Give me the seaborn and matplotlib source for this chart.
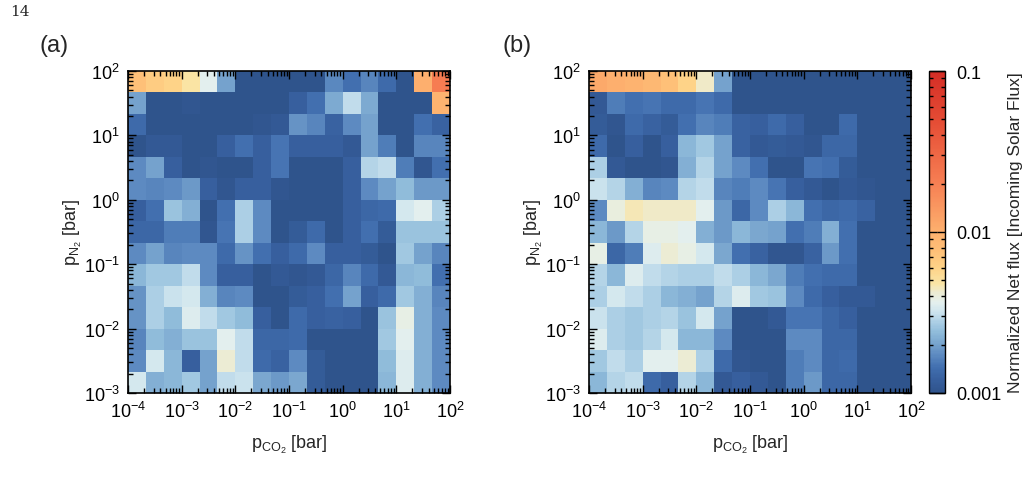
import numpy as np
import matplotlib
matplotlib.use('Agg')
import matplotlib.pyplot as plt
import seaborn as sns
from matplotlib.colors import LogNorm, LinearSegmentedColormap

# Grid: 3 cells per decade
pco2_decades = [-4, -3, -2, -1, 0, 1, 2]   # x axis, log10 bar
pn2_decades = [2, 1, 0, -1, -2, -3]        # y axis (top to bottom), log10 bar
cells_per_decade = 3

# Normalized net flux, in units of 1e-3 incoming solar flux
# rows: pN2 from 1e2 (top) down to 1e-3; columns: pCO2 from 1e-4 to 1e2
flux_a = [
    [7.6, 6.6, 6.0, 4.8, 3.6, 2.0, 1.0, 1.0, 1.0, 1.0, 1.0, 1.7, 1.45, 1.66, 1.38, 1.0, 10.0, 21.0],
    [2.0, 1.0, 1.0, 1.05, 1.0, 1.0, 1.0, 1.0, 1.0, 1.2, 1.45, 2.1, 3.0, 2.1, 1.0, 1.0, 1.0, 9.5],
    [1.38, 1.0, 1.0, 1.0, 1.0, 1.0, 1.0, 1.05, 1.1, 1.82, 1.66, 1.26, 1.74, 2.0, 1.0, 1.0, 1.45, 1.26],
    [1.0, 1.1, 1.1, 1.0, 1.0, 1.2, 1.45, 1.2, 1.51, 1.2, 1.2, 1.2, 1.1, 2.0, 1.58, 1.0, 1.66, 1.66],
    [1.74, 2.0, 1.2, 1.0, 1.05, 1.0, 1.0, 1.2, 1.51, 1.0, 1.0, 1.0, 1.2, 2.88, 3.02, 1.58, 1.05, 1.45],
    [1.74, 1.66, 1.74, 1.91, 1.2, 1.05, 1.2, 1.2, 1.05, 1.0, 1.0, 1.0, 1.2, 1.74, 2.0, 2.4, 1.91, 1.91],
    [1.2, 1.45, 2.51, 2.19, 1.0, 1.45, 2.75, 1.74, 1.0, 1.0, 1.0, 1.0, 1.2, 1.32, 1.38, 3.31, 3.63, 2.75],
    [1.32, 1.32, 1.58, 1.58, 1.05, 1.51, 2.75, 1.74, 1.0, 1.15, 1.38, 1.0, 1.2, 1.45, 1.15, 2.51, 2.51, 2.51],
    [1.74, 2.0, 1.66, 1.74, 1.74, 1.38, 1.82, 1.45, 1.2, 1.38, 1.74, 1.2, 1.2, 1.15, 1.0, 2.63, 2.0, 1.66],
    [2.29, 2.63, 2.63, 3.02, 1.74, 1.2, 1.2, 1.0, 1.1, 1.05, 1.1, 1.32, 1.66, 1.38, 1.1, 2.29, 2.4, 1.45],
    [1.82, 2.75, 3.16, 3.31, 2.19, 1.66, 1.74, 1.0, 1.0, 1.15, 1.2, 1.45, 2.0, 1.2, 1.38, 2.63, 2.19, 1.66],
    [1.82, 2.75, 2.4, 3.47, 3.02, 2.63, 2.4, 1.2, 1.0, 1.38, 1.2, 1.26, 1.2, 1.0, 2.51, 3.8, 2.19, 1.74],
    [1.66, 2.4, 2.19, 2.51, 2.51, 3.63, 3.02, 1.32, 1.32, 1.38, 1.0, 1.0, 1.0, 1.0, 2.63, 3.63, 2.19, 1.74],
    [1.74, 3.31, 2.29, 1.2, 2.0, 4.17, 3.02, 1.38, 1.26, 1.74, 1.15, 1.0, 1.0, 1.0, 2.4, 3.47, 2.19, 1.74],
    [3.31, 2.19, 2.29, 2.63, 2.0, 3.02, 3.16, 2.09, 1.91, 2.09, 1.15, 1.0, 1.0, 1.0, 2.29, 3.47, 2.19, 1.74],
]

flux_b = [
    [11.0, 10.0, 9.5, 8.7, 7.6, 6.0, 4.37, 2.0, 1.0, 1.0, 1.0, 1.0, 1.0, 1.0, 1.0, 1.0, 1.0, 1.0],
    [1.1, 1.58, 1.45, 1.51, 1.38, 1.38, 1.51, 1.38, 1.0, 1.0, 1.0, 1.0, 1.0, 1.0, 1.0, 1.0, 1.0, 1.0],
    [1.15, 1.05, 1.38, 1.26, 1.15, 1.45, 1.66, 1.58, 1.26, 1.2, 1.38, 1.2, 1.0, 1.0, 1.38, 1.0, 1.0, 1.0],
    [1.38, 1.0, 1.2, 1.0, 1.2, 2.29, 2.63, 2.0, 1.26, 1.1, 1.15, 1.1, 1.05, 1.32, 1.32, 1.0, 1.0, 1.0],
    [2.75, 1.1, 1.0, 1.0, 1.05, 2.19, 2.88, 2.0, 1.74, 1.45, 1.0, 1.0, 1.51, 1.45, 1.15, 1.0, 1.0, 1.0],
    [3.16, 2.88, 2.19, 1.66, 1.74, 2.88, 3.02, 1.66, 1.58, 1.74, 1.51, 1.2, 1.1, 1.0, 1.1, 1.05, 1.0, 1.0],
    [1.74, 3.98, 4.57, 4.37, 4.37, 4.37, 3.63, 1.91, 1.32, 1.74, 2.75, 2.29, 1.45, 1.32, 1.38, 1.26, 1.0, 1.0],
    [2.29, 1.91, 2.88, 3.8, 3.8, 3.63, 2.19, 1.91, 2.29, 2.09, 2.0, 1.45, 1.58, 2.19, 1.45, 1.0, 1.0, 1.0],
    [3.8, 1.32, 1.58, 3.47, 4.17, 3.8, 3.31, 2.09, 1.45, 1.26, 1.05, 1.05, 1.26, 1.91, 1.45, 1.0, 1.0, 1.0],
    [2.88, 2.29, 3.47, 3.02, 2.88, 2.75, 2.75, 3.02, 2.75, 2.29, 2.09, 1.58, 1.45, 1.38, 1.38, 1.0, 1.0, 1.0],
    [2.75, 3.31, 3.02, 2.75, 2.29, 2.19, 2.0, 2.88, 3.47, 2.63, 2.51, 1.74, 1.38, 1.2, 1.1, 1.1, 1.0, 1.0],
    [3.16, 2.75, 2.63, 2.75, 2.88, 2.51, 3.31, 2.0, 1.0, 1.0, 1.1, 1.51, 1.51, 1.32, 1.2, 1.0, 1.0, 1.0],
    [3.47, 2.75, 2.63, 2.88, 3.31, 2.29, 2.29, 1.74, 1.0, 1.0, 1.0, 1.74, 1.74, 1.32, 1.32, 1.0, 1.0, 1.0],
    [2.63, 3.02, 2.75, 3.63, 3.63, 4.17, 2.75, 1.38, 1.05, 1.0, 1.0, 1.58, 1.74, 1.32, 1.38, 1.0, 1.0, 1.0],
    [2.29, 2.88, 3.02, 1.38, 1.2, 2.88, 2.29, 1.1, 1.2, 1.1, 1.0, 1.58, 1.91, 1.32, 1.32, 1.0, 1.0, 1.0],
]

cbar_ticks = [0.001, 0.01, 0.1]
cbar_labels = ['0.001', '0.01', '0.1']

# blue -> white -> yellow -> orange -> red, as in the colour bar
cmap = LinearSegmentedColormap.from_list('netflux', [
    (0.00, (47/255, 84/255, 140/255)),
    (0.04, (55/255, 95/255, 158/255)),
    (0.08, (66/255, 112/255, 176/255)),
    (0.12, (95/255, 140/255, 194/255)),
    (0.15, (118/255, 163/255, 205/255)),
    (0.19, (145/255, 189/255, 219/255)),
    (0.22, (172/255, 207/255, 229/255)),
    (0.25, (205/255, 228/255, 238/255)),
    (0.28, (228/255, 240/255, 238/255)),
    (0.31, (236/255, 236/255, 212/255)),
    (0.34, (250/255, 228/255, 165/255)),
    (0.39, (254/255, 210/255, 135/255)),
    (0.44, (254/255, 192/255, 120/255)),
    (0.50, (253/255, 176/255, 110/255)),
    (0.66, (246/255, 125/255, 82/255)),
    (0.85, (228/255, 75/255, 52/255)),
    (1.00, (212/255, 45/255, 38/255)),
])

sns.set_style('ticks')
plt.rcParams['font.family'] = ['Liberation Sans', 'DejaVu Sans']
plt.rcParams['mathtext.fontset'] = 'custom'
plt.rcParams['mathtext.rm'] = 'Liberation Sans'
plt.rcParams['mathtext.it'] = 'Liberation Sans:italic'
plt.rcParams['mathtext.bf'] = 'Liberation Sans:bold'
plt.rcParams['axes.axisbelow'] = False

fig = plt.figure(figsize=(10.34, 4.81), dpi=100)
ax_a = fig.add_axes([0.1238, 0.1809, 0.3114, 0.6694])
ax_b = fig.add_axes([0.5696, 0.1809, 0.3114, 0.6694])
cax = fig.add_axes([0.8985, 0.1809, 0.0155, 0.6694])

norm = LogNorm(vmin=1e-3, vmax=1e-1)
data_a = np.array(flux_a) * 1e-3
data_b = np.array(flux_b) * 1e-3

sns.heatmap(data_a, ax=ax_a, cmap=cmap, norm=norm, cbar=False,
            xticklabels=False, yticklabels=False)
sns.heatmap(data_b, ax=ax_b, cmap=cmap, norm=norm, cbar=True, cbar_ax=cax,
            xticklabels=False, yticklabels=False)


def sup(e):
    return r'10$^{\mathrm{%d}}$' % e


x0 = pco2_decades[0]
y0 = pn2_decades[0]
x_major = [cells_per_decade * (d - x0) for d in pco2_decades]
y_major = [cells_per_decade * (y0 - d) for d in pn2_decades]
x_minor = [cells_per_decade * (d - x0 + np.log10(k)) for d in pco2_decades[:-1] for k in range(2, 10)]
y_minor = [cells_per_decade * (y0 - d - np.log10(k)) for d in pn2_decades[1:] for k in range(2, 10)]

for ax in (ax_a, ax_b):
    ax.set_axisbelow(False)
    ax.set_xticks(x_major)
    ax.set_xticks(x_minor, minor=True)
    ax.set_yticks(y_major)
    ax.set_yticks(y_minor, minor=True)
    ax.set_xticklabels([sup(d) for d in pco2_decades], rotation=0, fontsize=13)
    ax.set_yticklabels([sup(d) for d in pn2_decades], rotation=0, fontsize=13)
    ax.tick_params(which='both', direction='in', top=True, right=True,
                   bottom=True, left=True, colors='black', width=1.0)
    ax.tick_params(which='major', length=6, pad=6)
    ax.tick_params(which='minor', length=3.5)
    for s in ax.spines.values():
        s.set_visible(True)
        s.set_linewidth(1.2)
        s.set_color('black')
        s.set_zorder(3)
    ax.set_xlabel(r'p$_{\mathrm{CO_2}}$ [bar]', fontsize=13, labelpad=8)
    ax.set_ylabel(r'p$_{\mathrm{N_2}}$ [bar]', fontsize=13, labelpad=0)

cb = ax_b.collections[0].colorbar
cb.outline.set_visible(True)
cb.outline.set_linewidth(1.0)
cb.outline.set_edgecolor('black')
cb.set_ticks(cbar_ticks)
cb.set_ticklabels(cbar_labels)
cax.set_axisbelow(False)
cax.tick_params(which='both', direction='in', left=True, right=True, colors='black',
                labelsize=13, width=1.0)
cax.tick_params(which='major', length=6, pad=8)
cax.tick_params(which='minor', length=3)
cax.set_ylabel('Normalized Net flux [Incoming Solar Flux]', fontsize=12.5, labelpad=5)

fig.text(0.038, 0.905, '(a)', fontsize=17, ha='left', va='center')
fig.text(0.486, 0.905, '(b)', fontsize=17, ha='left', va='center')
fig.text(0.01, 0.975, '14', fontsize=11, family='DejaVu Serif', ha='left', va='center')

fig.savefig('out.png', dpi=100)
